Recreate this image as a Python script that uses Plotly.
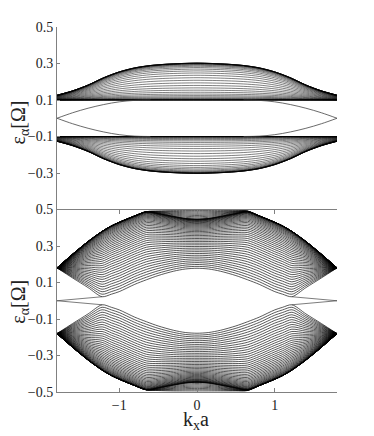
import numpy as np
import plotly.graph_objects as go
from plotly.subplots import make_subplots

# ---- top panel: gapped bands (upper half, lower half is the mirror) ----
k_top = [-1.8, -1.6, -1.4, -1.2, -1.0, -0.8, -0.6, -0.4, -0.2, 0.0,
         0.2, 0.4, 0.6, 0.8, 1.0, 1.2, 1.4, 1.6, 1.8]
top_band_low = [0.1, 0.1, 0.1, 0.1, 0.1, 0.1, 0.1, 0.1, 0.1, 0.1,
                0.1, 0.1, 0.1, 0.1, 0.1, 0.1, 0.1, 0.1, 0.1]
top_band_high = [0.126, 0.15, 0.182, 0.222, 0.254, 0.276, 0.289, 0.296, 0.300, 0.302,
                 0.300, 0.296, 0.289, 0.276, 0.254, 0.222, 0.182, 0.15, 0.126]
n_top_lines = 36

# edge state, left half (right half mirrored in k)
k_edge_top = [-1.8, -1.6, -1.4, -1.2, -1.0, -0.8, -0.6]
e_edge_top = [0.0, 0.03, 0.055, 0.075, 0.09, 0.098, 0.1]

# ---- bottom panel: driven bands ----
k_bot = [-1.8, -1.6, -1.4, -1.22, -1.1, -1.0, -0.8, -0.65, -0.5, -0.3, -0.15, 0.0,
         0.15, 0.3, 0.5, 0.65, 0.8, 1.0, 1.1, 1.22, 1.4, 1.6, 1.8]
bot_band_low = [0.18, 0.125, 0.072, 0.022, 0.036, 0.05, 0.09, 0.115, 0.138, 0.162, 0.174, 0.178,
                0.174, 0.162, 0.138, 0.115, 0.09, 0.05, 0.036, 0.022, 0.072, 0.125, 0.18]
bot_band_mid = [0.18, 0.255, 0.325, 0.38, 0.41, 0.43, 0.465, 0.488, 0.478, 0.462, 0.451, 0.447,
                0.451, 0.462, 0.478, 0.488, 0.465, 0.43, 0.41, 0.38, 0.325, 0.255, 0.18]
bot_band_top = [0.18, 0.255, 0.325, 0.38, 0.41, 0.43, 0.465, 0.488, 0.492, 0.494, 0.494, 0.494,
                0.494, 0.494, 0.494, 0.492, 0.465, 0.43, 0.41, 0.38, 0.325, 0.255, 0.18]
n_bot_lines = 42
n_bot_top_lines = 8

k_edge_bot = [-1.8, -1.5, -1.22]
e_edge_bot = [0.0, 0.011, 0.022]

yticks_top = [0.5, 0.3, 0.1, -0.1, -0.3]
yticks_bot = [0.5, 0.3, 0.1, -0.1, -0.3, -0.5]
xticks = [-1, 0, 1]


def family(k, low, high, fracs):
    low, high = np.array(low), np.array(high)
    xs, ys = [], []
    for sign in (1, -1):
        for s in fracs:
            y = sign * (low + s * (high - low))
            xs += list(k) + [None]
            ys += list(y) + [None]
    return xs, ys


def mirror_lines(k, e):
    xs, ys = [], []
    for sk in (1, -1):
        for se in (1, -1):
            xs += [sk * v for v in k] + [None]
            ys += [se * v for v in e] + [None]
    return xs, ys


def fmt(v):
    return ("\u2212" if v < 0 else "") + f"{abs(v):.1f}"


# lines crowd at both band edges (transverse modes of the ribbon)
u = np.linspace(0, 1, n_top_lines)
top_fracs = 0.5 * (1 - np.cos(np.pi * 0.5 * (1 - np.cos(np.pi * u))))
bot_fracs = np.sin(np.pi / 2 * np.linspace(0, 1, n_bot_lines))
bot_top_fracs = np.linspace(0, 1, n_bot_top_lines)[1:]

fig = make_subplots(rows=2, cols=1, vertical_spacing=0)

line_top = dict(color="black", width=0.5, shape="spline", smoothing=0.8)
line_bot = dict(color="black", width=0.65, shape="spline", smoothing=0.8)

x, y = family(k_top, top_band_low, top_band_high, top_fracs)
fig.add_trace(go.Scatter(x=x, y=y, mode="lines", line=line_top, hoverinfo="skip"), row=1, col=1)

ex, ey = mirror_lines(k_edge_top, e_edge_top)
fig.add_trace(go.Scatter(x=ex, y=ey, mode="lines",
                         line=dict(color="#444", width=0.8, shape="spline"),
                         hoverinfo="skip"), row=1, col=1)

x, y = family(k_bot, bot_band_low, bot_band_mid, bot_fracs)
fig.add_trace(go.Scatter(x=x, y=y, mode="lines", line=line_bot, hoverinfo="skip"), row=2, col=1)
x, y = family(k_bot, bot_band_mid, bot_band_top, bot_top_fracs)
fig.add_trace(go.Scatter(x=x, y=y, mode="lines", line=line_bot, hoverinfo="skip"), row=2, col=1)

ex, ey = mirror_lines(k_edge_bot, e_edge_bot)
fig.add_trace(go.Scatter(x=ex, y=ey, mode="lines",
                         line=dict(color="#444", width=0.7),
                         hoverinfo="skip"), row=2, col=1)

tickfont = dict(family="Liberation Serif", size=14, color="#222")
axcol = "#808080"

fig.update_xaxes(range=[-1.8, 1.8], showgrid=False, zeroline=False)
fig.update_xaxes(row=1, col=1, visible=False)
fig.update_xaxes(row=2, col=1, showline=True, linecolor=axcol, linewidth=1, mirror="ticks",
                 ticks="inside", ticklen=4, tickcolor=axcol, tickvals=xticks,
                 ticktext=[fmt(v).replace(".0", "") for v in xticks], tickfont=tickfont)
fig.update_yaxes(range=[-0.5, 0.5], showgrid=False, zeroline=False, showline=True,
                 linecolor=axcol, linewidth=1, ticks="inside", ticklen=3, tickcolor=axcol,
                 tickfont=tickfont)
fig.update_yaxes(row=1, col=1, tickvals=yticks_top, ticktext=[fmt(v) for v in yticks_top])
fig.update_yaxes(row=2, col=1, tickvals=yticks_bot, ticktext=[fmt(v) for v in yticks_bot])

titlefont = dict(family="Liberation Serif", size=20, color="#222")
for yc in (0.739, 0.248):
    fig.add_annotation(text="\u03b5<sub>\u03b1</sub>[\u03a9]", xref="paper", yref="paper",
                       x=-0.135, y=yc, xanchor="center", yanchor="middle",
                       textangle=-90, showarrow=False, font=titlefont)
fig.add_annotation(text="k<sub>x</sub>a", xref="paper", yref="paper",
                   x=0.496, y=-0.078, xanchor="center", yanchor="middle",
                   showarrow=False, font=titlefont)

# page body keeps its default 8px margin, so the figure is 8px smaller
fig.update_layout(width=366, height=428, showlegend=False,
                  margin=dict(l=49, r=37, t=13, b=44),
                  plot_bgcolor="white", paper_bgcolor="white")

fig.write_html("out.html")
